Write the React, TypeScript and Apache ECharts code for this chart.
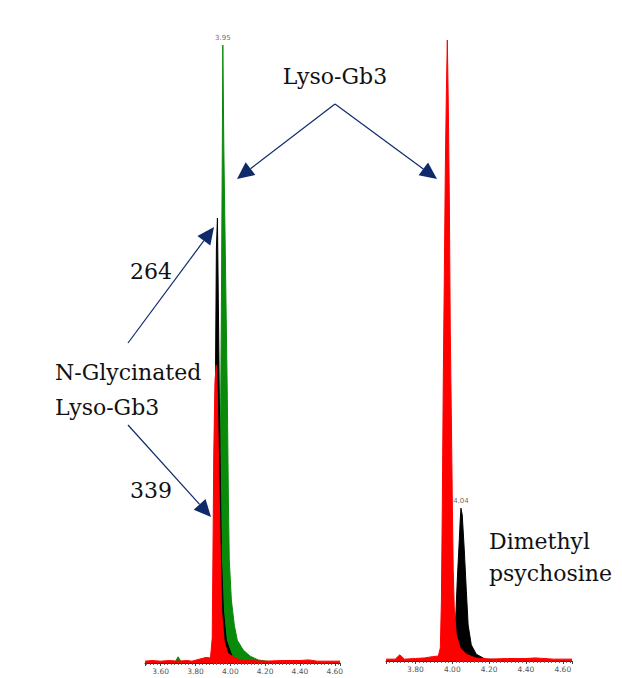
import React, { useEffect, useRef } from "react";
import * as echarts from "echarts";

// ---- Data (retention time [min], relative intensity %) ----
const LEFT_X_RANGE = [3.51, 4.63];
const RIGHT_X_RANGE = [3.64, 4.65];

const leftGreen: [number, number][] = [
  [3.51, 0], [3.6, 0.1], [3.68, 0], [3.7, 1.0], [3.72, 0.1], [3.8, 0], [3.9, 0],
  [3.914, 0], [3.931, 10.2], [3.943, 34.5], [3.949, 58.7], [3.954, 83], [3.957, 100],
  [3.963, 83], [3.971, 66.8], [3.983, 42.6], [3.989, 26.4], [3.994, 16.7], [4.006, 10.2],
  [4.023, 6.1], [4.04, 3.7], [4.074, 2.1], [4.114, 1.1], [4.16, 0.5], [4.229, 0.2],
  [4.35, 0.1], [4.63, 0],
];

const leftBlack: [number, number][] = [
  [3.51, 0], [3.9, 0], [3.903, 0], [3.909, 17], [3.914, 43], [3.92, 67], [3.926, 72],
  [3.931, 59], [3.937, 43], [3.943, 30], [3.949, 17], [3.96, 8.6], [3.977, 3.7],
  [4.011, 1], [4.057, 0.2], [4.63, 0],
];

const leftRed: [number, number][] = [
  [3.51, 0.3], [3.55, 0.4], [3.6, 0.3], [3.65, 0.4], [3.7, 0.3], [3.75, 0.4], [3.78, 0.3],
  [3.82, 0.6], [3.86, 0.9], [3.886, 0.8], [3.896, 4], [3.9, 16.7], [3.905, 34],
  [3.912, 45.5], [3.919, 48.2], [3.925, 44], [3.929, 38], [3.935, 29], [3.943, 17],
  [3.951, 8], [3.965, 3.5], [3.985, 1.6], [4.02, 0.9], [4.057, 0.5], [4.1, 0.4], [4.2, 0.3],
  [4.3, 0.4], [4.4, 0.4], [4.45, 0.5], [4.5, 0.3], [4.63, 0.3],
];

const rightBlack: [number, number][] = [
  [3.64, 0], [4.0, 0], [4.005, 0], [4.016, 5], [4.027, 13], [4.038, 19.5], [4.043, 22.7],
  [4.047, 24.6], [4.054, 23.5], [4.065, 17.9], [4.076, 11.4], [4.086, 5.8], [4.103, 2.6],
  [4.13, 1.1], [4.178, 0.3], [4.65, 0],
];

const rightRed: [number, number][] = [
  [3.64, 0.3], [3.69, 0.3], [3.715, 1.0], [3.74, 0.3], [3.8, 0.4], [3.85, 0.5], [3.892, 0.7],
  [3.924, 0.8], [3.935, 2.1], [3.941, 9.8], [3.946, 25.9], [3.951, 45.2], [3.957, 63],
  [3.962, 79], [3.968, 92], [3.973, 100], [3.978, 90.3], [3.984, 74.2], [3.989, 53.3],
  [3.995, 38.8], [4.0, 25.9], [4.005, 14.7], [4.011, 8.2], [4.022, 4.2], [4.043, 2.1],
  [4.076, 1.1], [4.124, 0.5], [4.205, 0.3], [4.3, 0.4], [4.4, 0.4], [4.45, 0.5],
  [4.55, 0.3], [4.65, 0.3],
];

const peakLabels = [
  { grid: 0, point: [3.957, 100], text: "3.95" },
  { grid: 1, point: [4.047, 24.6], text: "4.04" },
];

// ---- Annotations ----
const NAVY = "#0f2a6a";
const FONT = "DejaVu Serif";
const annotationTexts = [
  { text: "Lyso-Gb3", x: 335, y: 76, align: "center" },
  { text: "264", x: 130, y: 271, align: "left" },
  { text: "N-Glycinated", x: 55, y: 372, align: "left" },
  { text: "Lyso-Gb3", x: 55, y: 407, align: "left" },
  { text: "339", x: 130, y: 490, align: "left" },
  { text: "Dimethyl", x: 489, y: 541, align: "left" },
  { text: "psychosine", x: 489, y: 573, align: "left" },
];
const arrows = [
  { from: [335, 104], to: [237, 179] },
  { from: [335, 104], to: [437, 179] },
  { from: [128, 343], to: [214, 227] },
  { from: [128, 425], to: [211, 517] },
];

function arrowElements() {
  const els: any[] = [];
  arrows.forEach((a) => {
    const [x1, y1] = a.from;
    const [x2, y2] = a.to;
    const dx = x2 - x1;
    const dy = y2 - y1;
    const len = Math.sqrt(dx * dx + dy * dy);
    const ux = dx / len;
    const uy = dy / len;
    const headLen = 17;
    const headW = 8;
    const bx = x2 - ux * headLen;
    const by = y2 - uy * headLen;
    els.push({
      type: "line",
      shape: { x1, y1, x2: bx, y2: by },
      style: { stroke: NAVY, lineWidth: 1.2 },
    });
    els.push({
      type: "polygon",
      shape: {
        points: [
          [x2, y2],
          [bx - uy * headW, by + ux * headW],
          [bx + uy * headW, by - ux * headW],
        ],
      },
      style: { fill: NAVY },
    });
  });
  return els;
}

function xAxisCfg(gridIndex: number, range: number[]) {
  return {
    type: "value",
    gridIndex,
    min: range[0],
    max: range[1],
    splitNumber: 5,
    axisLine: { show: true, lineStyle: { color: "#333", width: 1 } },
    axisTick: { show: true, length: 3, lineStyle: { color: "#444" } },
    minorTick: { show: true, splitNumber: 10, length: 2, lineStyle: { color: "#666" } },
    splitLine: { show: false },
    minorSplitLine: { show: false },
    axisLabel: {
      fontSize: 7.5,
      color: "#555",
      margin: 4,
      fontFamily: "DejaVu Sans",
      showMinLabel: false,
      formatter: (v: number) => v.toFixed(2),
    },
  };
}

function yAxisCfg(gridIndex: number) {
  return { type: "value", gridIndex, min: 0, max: 100, show: false };
}

function areaSeries(data: [number, number][], color: string, idx: number, z: number) {
  return {
    type: "line",
    xAxisIndex: idx,
    yAxisIndex: idx,
    data,
    showSymbol: false,
    symbol: "none",
    smooth: false,
    z,
    lineStyle: { color, width: 1 },
    areaStyle: { color, opacity: 1 },
  };
}

export default function App() {
  const ref = useRef<HTMLDivElement>(null);
  useEffect(() => {
    if (!ref.current) return;
    const chart = echarts.init(ref.current, undefined, { renderer: "svg" });
    const option: any = {
      animation: false,
      backgroundColor: "#ffffff",
      grid: [
        { left: 145, width: 195, top: 45, height: 618 },
        { left: 386, width: 186, top: 40, height: 621 },
      ],
      xAxis: [xAxisCfg(0, LEFT_X_RANGE), xAxisCfg(1, RIGHT_X_RANGE)],
      yAxis: [yAxisCfg(0), yAxisCfg(1)],
      series: [
        areaSeries(leftGreen, "#0a8a0a", 0, 2),
        areaSeries(leftBlack, "#000000", 0, 3),
        areaSeries(leftRed, "#ff0000", 0, 4),
        areaSeries(rightBlack, "#000000", 1, 3),
        areaSeries(rightRed, "#ff0000", 1, 4),
        ...peakLabels.map((p) => ({
          type: "scatter",
          xAxisIndex: p.grid,
          yAxisIndex: p.grid,
          data: [p.point],
          symbolSize: 1,
          itemStyle: { color: "rgba(0,0,0,0)" },
          z: 10,
          label: {
            show: true,
            position: "top",
            distance: 3,
            formatter: p.text,
            fontSize: 7,
            color: "#444",
            fontFamily: "DejaVu Sans",
          },
        })),
      ],
      graphic: [
        ...annotationTexts.map((t) => ({
          type: "text",
          x: t.x,
          y: t.y,
          z: 100,
          style: {
            text: t.text,
            fontSize: 22,
            fontFamily: FONT,
            fill: "#111",
            align: t.align,
            verticalAlign: "middle",
          },
        })),
        ...arrowElements().map((e) => ({ ...e, z: 100 })),
      ],
    };
    chart.setOption(option);
    return () => chart.dispose();
  }, []);
  return (
    <div
      ref={ref}
      style={{ position: "absolute", left: 0, top: 0, width: 622, height: 678 }}
    />
  );
}
